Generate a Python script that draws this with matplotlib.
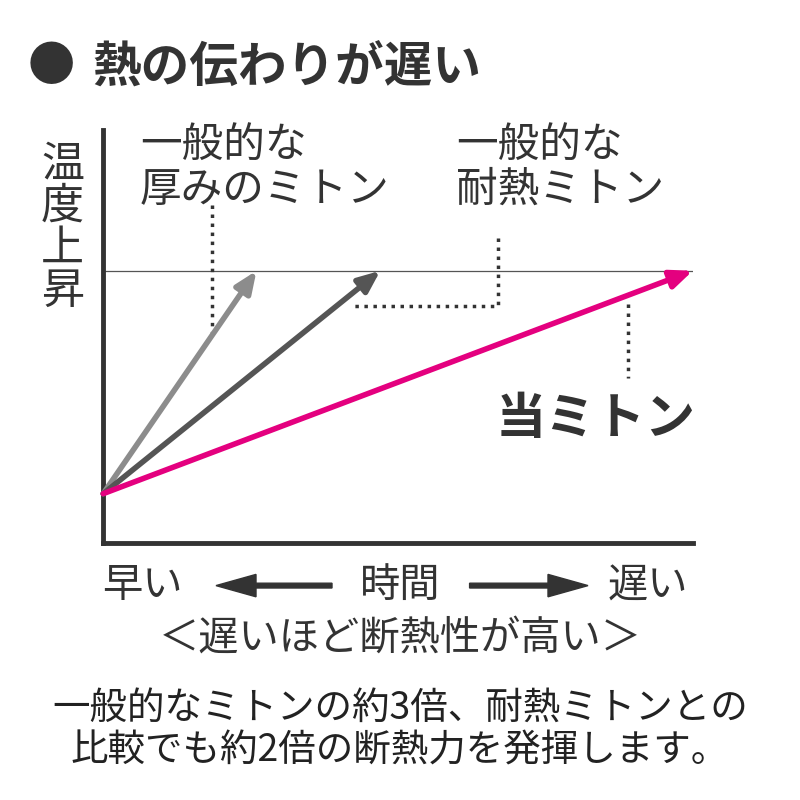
import matplotlib
matplotlib.use("Agg")
import matplotlib.pyplot as plt

plt.rcParams['font.family'] = ['Noto Sans CJK JP', 'DejaVu Sans']

PINK = "#e4007f"
DARK = "#555555"
LIGHT = "#8c8c8c"
TEXT = "#333333"

# mittens: time needed to reach the target temperature
labels = ["一般的な\n厚みのミトン", "一般的な\n耐熱ミトン", "当ミトン"]
time_end = [2.6, 4.7, 10.0]
start_temp = 1.2
target_temp = 6.6
colors = [LIGHT, DARK, PINK]

fig = plt.figure(figsize=(8, 8), dpi=100)
fig.patch.set_facecolor("white")
ax = fig.add_axes([0.129, 0.321, 0.737, 0.516])
ax.set_xlim(0, 10)
ax.set_ylim(0, 10)
for sp in ("top", "right"):
    ax.spines[sp].set_visible(False)
for sp in ("left", "bottom"):
    ax.spines[sp].set_linewidth(3.5)
    ax.spines[sp].set_color(TEXT)
ax.set_xticks([])
ax.set_yticks([])
ax.set_facecolor("none")

ax.axhline(target_temp, color="#555555", lw=0.9)

for t, c in zip(time_end, colors):
    ax.annotate("", xy=(t, target_temp), xytext=(0, start_temp),
                arrowprops=dict(arrowstyle="-|>,head_length=1.3,head_width=0.55",
                                color=c, lw=4, shrinkA=0, shrinkB=0))

# dotted leader lines
dot = dict(color=TEXT, lw=2.5, ls=(0, (1, 1.6)))
ax.plot([1.85, 1.85], [8.2, 5.1], **dot)
ax.plot([6.7, 6.7, 4.2], [7.4, 5.75, 5.75], **dot)
ax.plot([8.9, 8.9], [5.8, 4.0], **dot)

fig.text(0.035, 0.915, "●", fontsize=34, color=TEXT, va="center")
fig.text(0.115, 0.915, "熱の伝わりが遅い", fontsize=35, weight="bold",
         color=TEXT, va="center")
fig.text(0.078, 0.715, "温\n度\n上\n昇", fontsize=31, color=TEXT, ha="center",
         va="center", linespacing=0.95)
fig.text(0.175, 0.79, labels[0], fontsize=30, color=TEXT, va="center",
         linespacing=1.1)
fig.text(0.57, 0.79, labels[1], fontsize=30, color=TEXT, va="center",
         linespacing=1.1)
fig.text(0.62, 0.475, labels[2], fontsize=36, weight="bold", color=TEXT,
         va="center")

fig.text(0.128, 0.268, "早い", fontsize=29, color=TEXT, va="center")
fig.text(0.5, 0.268, "時間", fontsize=29, color=TEXT, va="center", ha="center")
fig.text(0.76, 0.268, "遅い", fontsize=29, color=TEXT, va="center")
fig.patches.append(matplotlib.patches.FancyArrow(
    0.415, 0.268, -0.145, 0, width=0.006, head_width=0.028, head_length=0.05,
    color=TEXT, transform=fig.transFigure, length_includes_head=True))
fig.patches.append(matplotlib.patches.FancyArrow(
    0.587, 0.268, 0.148, 0, width=0.006, head_width=0.028, head_length=0.05,
    color=TEXT, transform=fig.transFigure, length_includes_head=True))
fig.text(0.5, 0.203, "＜遅いほど断熱性が高い＞", fontsize=29, color=TEXT,
         ha="center", va="center")

fig.text(0.5, 0.088, "一般的なミトンの約3倍、耐熱ミトンとの\n比較でも約2倍の断熱力を発揮します。",
         fontsize=27, color="#222222", ha="center", va="center", linespacing=1.1)

fig.savefig("out.png", dpi=100, facecolor="white")
